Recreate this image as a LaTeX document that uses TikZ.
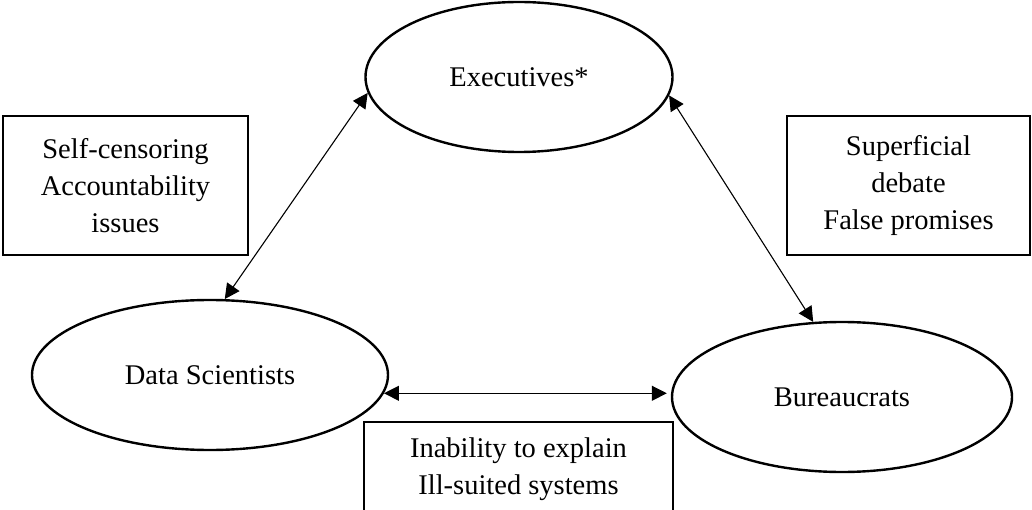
\documentclass[tikz,border=0pt]{standalone}
\usepackage{fontspec}
\setmainfont{Liberation Serif}
\usetikzlibrary{shapes.geometric,arrows.meta}
\begin{document}
\begin{tikzpicture}[x=1pt,y=-1pt,
  actor/.style={ellipse,draw,line width=2.4pt,inner sep=0pt},
  issuebox/.style={rectangle,draw,line width=1.2pt,inner sep=0pt,align=center},
  link/.style={line width=1.1pt,{Triangle[length=15pt,width=15pt]}-{Triangle[length=15pt,width=15pt]}},
  every node/.style={font=\fontsize{28.5}{37}\selectfont}]
  \clip (0,0) rectangle (1032,510);
  \fill[white] (0,0) rectangle (1032,510);

  % actors
  \node[actor,minimum width=307pt,minimum height=150pt] (exec) at (519,77) {Executives*};
  \node[actor,minimum width=356pt,minimum height=150pt] (ds) at (210,375) {Data Scientists};
  \node[actor,minimum width=340pt,minimum height=150pt] (bur) at (842,397) {Bureaucrats};

  % issue boxes
  \node[issuebox,minimum width=245pt,minimum height=139pt] (lbox) at (125.5,185.5)
    {Self-censoring\\Accountability\\issues};
  \node[issuebox,minimum width=243pt,minimum height=139pt] (rbox) at (908.5,185.5)
    {Superficial\\debate\\False promises};
  \node[issuebox,minimum width=309pt,minimum height=94pt] (bbox) at (518.5,469)
    {Inability to explain\\Ill-suited systems};

  % relations
  \draw[link] (exec.186) -- (ds.79);
  \draw[link] (exec.-7) -- (bur.111);
  \draw[link,shorten >=4pt] (ds.-6) -- (bur.west |- ds.-6);
\end{tikzpicture}
\end{document}
